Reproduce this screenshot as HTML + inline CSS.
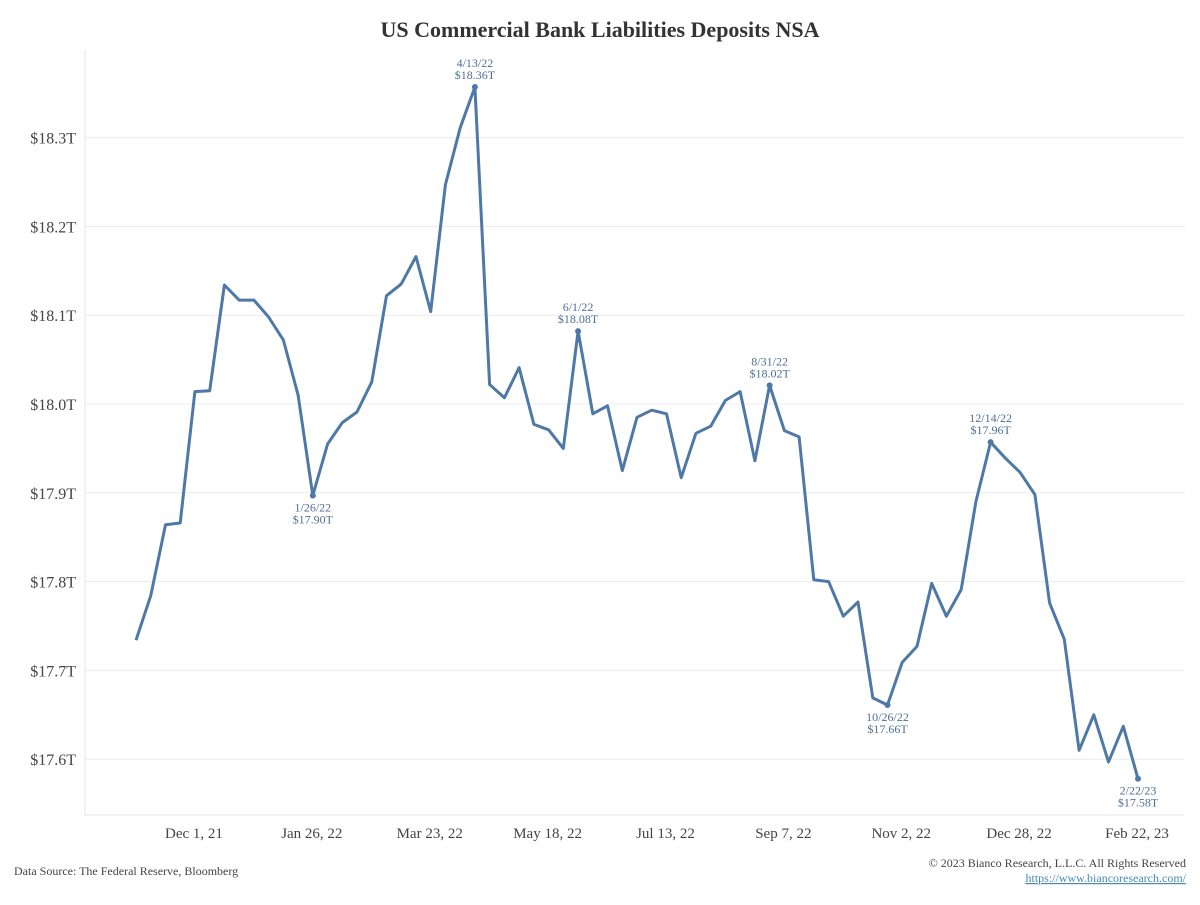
<!DOCTYPE html>
<html><head><meta charset="utf-8">
<style>
body{margin:0;background:#fff;width:1200px;height:900px;overflow:hidden;font-family:"Liberation Serif",serif;}
#wrap{position:relative;width:1200px;height:900px;}
</style></head>
<body>
<div id="wrap">
<svg id="chart" width="1200" height="900" xmlns="http://www.w3.org/2000/svg">
<text x="600" y="37" text-anchor="middle" font-family="Liberation Serif, serif" font-weight="bold" font-size="22" fill="#333">US Commercial Bank Liabilities Deposits NSA</text>
<text x="14" y="875" font-family="Liberation Serif, serif" font-size="12" fill="#444">Data Source: The Federal Reserve, Bloomberg</text>
<text x="1186" y="867" text-anchor="end" font-family="Liberation Serif, serif" font-size="12" fill="#444">© 2023 Bianco Research, L.L.C. All Rights Reserved</text>
<text x="1186" y="882" text-anchor="end" font-family="Liberation Serif, serif" font-size="12" fill="#4a8ab0" text-decoration="underline">https://www.biancoresearch.com/</text>
<g id="grid"></g><g id="axes"></g><g id="series"></g><g id="labels"></g>
</svg>
</div>
<script>
const values = [17.734,17.784,17.864,17.866,18.014,18.015,18.134,18.117,18.117,18.098,18.072,18.010,17.897,17.955,17.979,17.991,18.025,18.122,18.135,18.166,18.104,18.247,18.311,18.357,18.022,18.007,18.041,17.977,17.971,17.950,18.082,17.989,17.998,17.925,17.985,17.993,17.989,17.917,17.967,17.975,18.004,18.014,17.936,18.021,17.970,17.963,17.802,17.800,17.761,17.777,17.669,17.661,17.709,17.727,17.798,17.761,17.791,17.890,17.957,17.939,17.923,17.898,17.776,17.735,17.610,17.650,17.597,17.637,17.578];
const yTicks = [17.6,17.7,17.8,17.9,18.0,18.1,18.2,18.3];
const yTickLabels = ["$17.6T","$17.7T","$17.8T","$17.9T","$18.0T","$18.1T","$18.2T","$18.3T"];
const xTickIdx = [4,12,20,28,36,44,52,60,68];
const xTickLabels = ["Dec 1, 21","Jan 26, 22","Mar 23, 22","May 18, 22","Jul 13, 22","Sep 7, 22","Nov 2, 22","Dec 28, 22","Feb 22, 23"];
const annIdx = [12,23,30,43,51,58,68];
const annDates = ["1/26/22","4/13/22","6/1/22","8/31/22","10/26/22","12/14/22","2/22/23"];
const annVals = ["$17.90T","$18.36T","$18.08T","$18.02T","$17.66T","$17.96T","$17.58T"];
const annBelow = [true,false,false,false,true,false,true];

const NS="http://www.w3.org/2000/svg";
const L=85,R=1185,T=50,B=815;
const X=i=>136+i*(1138-136)/68;
const Y=v=>404-(v-18.0)*888;
function mk(tag,attrs,parent,text){const e=document.createElementNS(NS,tag);for(const k in attrs)e.setAttribute(k,attrs[k]);if(text!==undefined)e.textContent=text;document.getElementById(parent).appendChild(e);return e;}

yTicks.forEach((t,i)=>{
  const g=mk('line',{x1:L,x2:R,y1:Y(t),y2:Y(t),stroke:'#ececec','stroke-width':1},'grid');
  
  
  const tx=mk('text',{x:76,y:Y(t)+6,'text-anchor':'end','font-size':16,fill:'#444','font-family':'Liberation Serif, serif'},'axes',yTickLabels[i]);
  
  
});
const ax=mk('line',{x1:L,x2:L,y1:T,y2:B,stroke:'#e6e6e6','stroke-width':1},'axes');


const bx=mk('line',{x1:L,x2:R,y1:B,y2:B,stroke:'#e6e6e6','stroke-width':1},'axes');


xTickIdx.forEach((idx,i)=>{
  const tx=mk('text',{x:X(idx)-1,y:838,'text-anchor':'middle','font-size':15,fill:'#444','font-family':'Liberation Serif, serif'},'axes',xTickLabels[i]);
  
  
});
const pts=values.map((v,i)=>X(i).toFixed(1)+','+Y(v).toFixed(1)).join(' ');
const pl=mk('polyline',{points:pts,fill:'none',stroke:'#4e79a7','stroke-width':3,'stroke-linejoin':'round'},'series');


annIdx.forEach((idx,i)=>{
  const x=X(idx),y=Y(values[idx]);
  const c=mk('circle',{cx:x,cy:y,r:3,fill:'#4e79a7'},'labels');
  
  
  const y1=annBelow[i]?y+16:y-20, y2=annBelow[i]?y+28:y-8;
  const a=mk('text',{x:x,y:y1,'text-anchor':'middle','font-size':12,fill:'#4e6f94','font-family':'Liberation Serif, serif'},'labels',annDates[i]);
  
  
  const b=mk('text',{x:x,y:y2,'text-anchor':'middle','font-size':12,fill:'#4e6f94','font-family':'Liberation Serif, serif'},'labels',annVals[i]);
  
  
});
</script>
</body></html>
